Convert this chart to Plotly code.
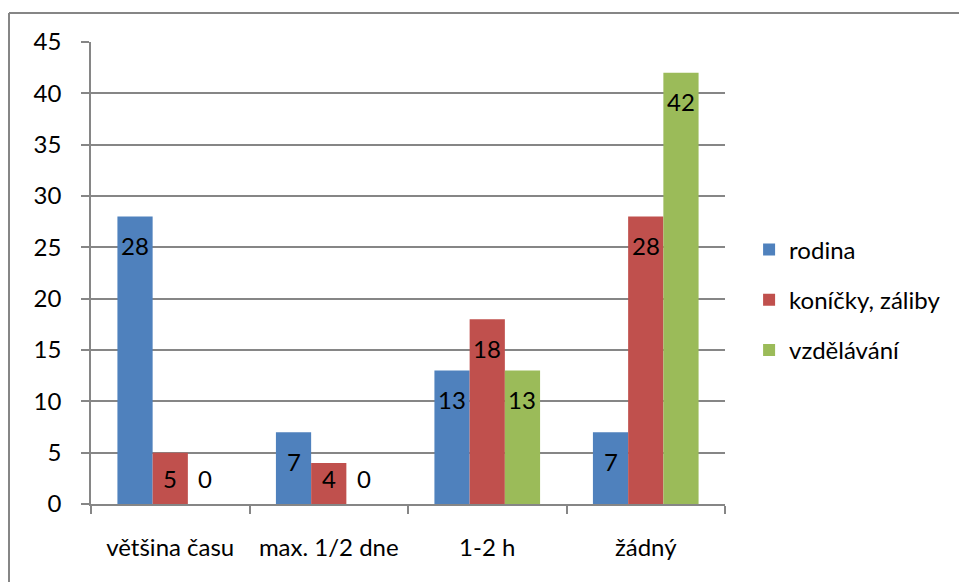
import plotly.graph_objects as go

categories = ["většina času", "max. 1/2 dne", "1-2 h", "žádný"]
series_names = ["rodina", "koníčky, záliby", "vzdělávání"]
rodina = [28, 7, 13, 7]
konicky = [5, 4, 18, 28]
vzdelavani = [0, 0, 13, 42]
y_ticks = [0, 5, 10, 15, 20, 25, 30, 35, 40, 45]

colors = ["#4F81BD", "#C0504D", "#9BBB59"]
FONT = "Lato"
FS = 24

W, H = 959, 582
ML, MT = 91, 42
plot_w, plot_h = 634, 462
MR = W - ML - plot_w
MB = H - MT - plot_h
ymax = 45
bargap = 1 / 3

fig = go.Figure()
all_series = [rodina, konicky, vzdelavani]
for i, (name, vals) in enumerate(zip(series_names, all_series)):
    fig.add_trace(go.Bar(
        x=categories, y=vals, name=name, marker=dict(color=colors[i], line=dict(width=0)),
        legendgroup=name, hoverinfo="x+y+name",
    ))

# data labels (Excel "inside end" style)
ppu = plot_h / ymax
bar_px = plot_w / len(categories) * (1 - bargap) / 3
annotations = []
for i, vals in enumerate(all_series):
    for j, v in enumerate(vals):
        if v * ppu - 29 >= 26:
            yv, ys = v, -29
        else:
            yv, ys = 0, 26
        annotations.append(dict(
            x=categories[j], y=yv, xref="x", yref="y", text=str(v), showarrow=False,
            xshift=(i - 1) * bar_px, yshift=ys, font=dict(family=FONT, size=FS, color="#000000"),
            xanchor="center", yanchor="middle",
        ))

bx0 = (9 - ML) / plot_w
by1 = (MT + plot_h - 13) / plot_h
border = dict(color="#868686", width=2)
fig.update_layout(
    width=W, height=H,
    margin=dict(l=ML, r=MR, t=MT, b=MB, pad=0),
    paper_bgcolor="white", plot_bgcolor="white",
    barmode="group", bargap=bargap, bargroupgap=0,
    font=dict(family=FONT, size=FS, color="#000000"),
    showlegend=True,
    legend=dict(
        x=1.038, y=(plot_h - (300 - MT)) / plot_h, xanchor="left", yanchor="middle",
        font=dict(family=FONT, size=FS, color="#000000"),
        tracegroupgap=16, itemclick=False, itemdoubleclick=False,
        bgcolor="rgba(0,0,0,0)",
    ),
    annotations=annotations,
    shapes=[
        dict(type="line", xref="paper", yref="paper", x0=bx0, x1=1.5, y0=by1, y1=by1,
             line=border, layer="below"),
        dict(type="line", xref="paper", yref="paper", x0=bx0, x1=bx0, y0=-0.2, y1=by1,
             line=border, layer="below"),
    ],
)
fig.update_xaxes(
    type="category", showgrid=False, showline=True, linecolor="#868686", linewidth=1.5,
    ticks="outside", ticklen=8, tickcolor="#868686", tickwidth=1.5, tickson="boundaries",
    ticklabelstandoff=21, tickfont=dict(family=FONT, size=FS, color="#000000"),
)
fig.update_yaxes(
    range=[0, ymax], tickvals=y_ticks, showgrid=True, gridcolor="#868686", gridwidth=1.5,
    showline=True, linecolor="#868686", linewidth=1.5, zeroline=False,
    ticks="outside", ticklen=8, tickcolor="#868686", tickwidth=1.5,
    ticklabelstandoff=15, tickfont=dict(family=FONT, size=FS, color="#000000"),
)

fig.write_html(
    "out.html",
    config={"displayModeBar": False},
    post_script=(
        "document.body.style.margin='0';"
        "document.documentElement.style.overflow='hidden';"
        "document.body.style.overflow='hidden';"
    ),
)
